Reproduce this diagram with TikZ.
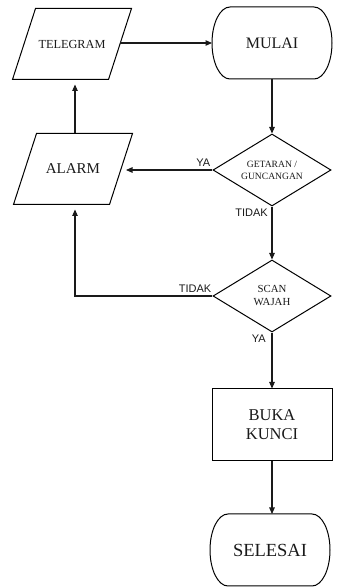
\documentclass[tikz,border=0pt]{standalone}
\usepackage{fontspec}
\setmainfont{Liberation Serif}
\setsansfont{Liberation Sans}
\usetikzlibrary{arrows.meta,shapes.geometric,positioning}
\definecolor{inkgray}{HTML}{1A1A1A}

% outline of a terminal box (ellipse ends), drawn round a named node
\newcommand{\termedge}[1]{%
  \draw[line width=1pt]
    ([xshift=18pt]#1.north west) -- ([xshift=-18pt]#1.north east)
    arc[start angle=90,end angle=-90,x radius=18pt,y radius=36pt]
    -- ([xshift=18pt]#1.south west)
    arc[start angle=270,end angle=90,x radius=18pt,y radius=36pt] -- cycle;}
% slanted input/output box round a named node
\newcommand{\ioedge}[1]{%
  \draw[line width=1pt, line join=miter]
    ([xshift=-11.5pt]#1.south west) -- ([xshift=-11.5pt]#1.south east)
    -- ([xshift=11.5pt]#1.north east) -- ([xshift=11.5pt]#1.north west)
    -- cycle;}

\begin{document}
\begin{tikzpicture}[x=1pt, y=1pt, line cap=butt, line join=miter,
  box/.style={line width=1pt, text=inkgray, align=center,
    minimum width=120pt, minimum height=72pt, inner sep=1pt},
  io/.style={box, rectangle, outer sep=0pt,
    minimum width=96pt, minimum height=71pt},
  decision/.style={box, draw, diamond, aspect=1.64, minimum width=118pt},
  proc/.style={box, draw, rectangle},
  term/.style={box, rectangle, outer sep=0pt},
  flow/.style={line width=1.1pt, draw=inkgray,
    -{Triangle[length=6.5pt,width=5.5pt]}},
  lbl/.style={font=\sffamily\fontsize{11}{13}\selectfont, text=inkgray,
    inner sep=1pt}]
  \useasboundingbox (0,0) rectangle (363,587);

  \node[io, font=\fontsize{12.3}{14}\selectfont] (tele) at (72,543) {TELEGRAM};
  \ioedge{tele}
  \node[term, font=\fontsize{16}{19}\selectfont] (mulai) at (272,544) {MULAI};
  \termedge{mulai}
  \node[decision, font=\fontsize{9.6}{12}\selectfont] (get) at (272,417)
    {GETARAN /\\GUNCANGAN};
  \node[io, font=\fontsize{15}{18}\selectfont] (alarm) at (73,418) {ALARM};
  \ioedge{alarm}
  \node[decision, font=\fontsize{10.8}{13}\selectfont] (scan) at (272,291)
    {SCAN\\WAJAH};
  \node[proc, font=\fontsize{16.5}{19}\selectfont] (buka) at (272,162)
    {BUKA\\KUNCI};
  \node[term, font=\fontsize{18.5}{21}\selectfont] (sel) at (270,37) {SELESAI};
  \termedge{sel}

  % return line on the left
  \coordinate (up) at (75,0);

  \draw[flow] (tele.east |- mulai) -- (mulai);
  \draw[flow] (mulai) -- (get);
  \draw[flow, shorten >=5pt] (get) -- (get -| alarm.east);
  \draw[flow, shorten >=5pt] (alarm.north -| up) -- (tele.south -| up);
  \draw[flow] (get) -- (scan);
  \draw[flow, shorten >=5pt] (scan) -- (scan -| up) -- (alarm.south -| up);
  \draw[flow] (scan) -- (buka);
  \draw[flow] (buka) -- (buka |- sel.north);

  \node[lbl, above left=2pt and 1pt of get.west] (ya1) {YA};
  \node[lbl, below left=1pt and 3pt of get.south] (tidak1) {TIDAK};
  \node[lbl, above left=2pt and 0pt of scan.west] (tidak2) {TIDAK};
  \node[lbl, below left=1pt and 5pt of scan.south] (ya2) {YA};
\end{tikzpicture}
\end{document}
